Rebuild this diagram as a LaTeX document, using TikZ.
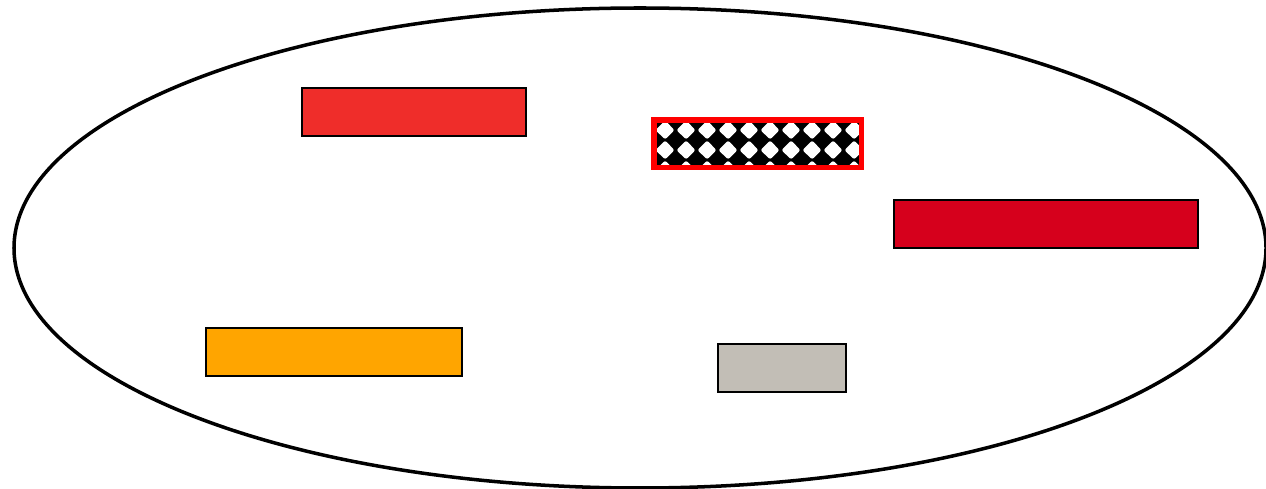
\documentclass[tikz,border=0pt]{standalone}
\usepackage{tikz}
\usepackage{xcolor}
\definecolor{boxred}{HTML}{EF2D2A}
\definecolor{darkred}{HTML}{D6001C}
\definecolor{boxorange}{HTML}{FFA500}
\definecolor{boxgrey}{HTML}{C2BEB6}
\definecolor{rimred}{HTML}{FF0000}

\begin{document}
\begin{tikzpicture}[x=0.02cm,y=-0.02cm,
  bar/.style={draw=black,line width=1.1pt}]
  \useasboundingbox (0,0) rectangle (1266,489);
  \draw[line width=2pt] (640,248) ellipse [x radius=626,y radius=240];
  \foreach \a/\b/\c/\d/\col in {302/88/526/136/boxred,894/200/1198/248/darkred,
                               206/328/462/376/boxorange,718/344/846/392/boxgrey} {
    \draw[bar,fill=\col] (\a,\b) rectangle (\c,\d);
  }
  % checkered bar
  \begin{scope}
    \clip (656,122) rectangle (860,166);
    \fill[black] (656,122) rectangle (860,166);
    \foreach \i in {0,...,9} {
      \foreach \cy in {130,150,170} {
        \fill[white,rounded corners=1.2pt] (665+21*\i-9.5,\cy) -- (665+21*\i,\cy-9.5)
          -- (665+21*\i+9.5,\cy) -- (665+21*\i,\cy+9.5) -- cycle;
      }
    }
  \end{scope}
  \draw[rimred,line width=3.3pt] (654,120) rectangle (861.5,167.5);
\end{tikzpicture}
\end{document}
